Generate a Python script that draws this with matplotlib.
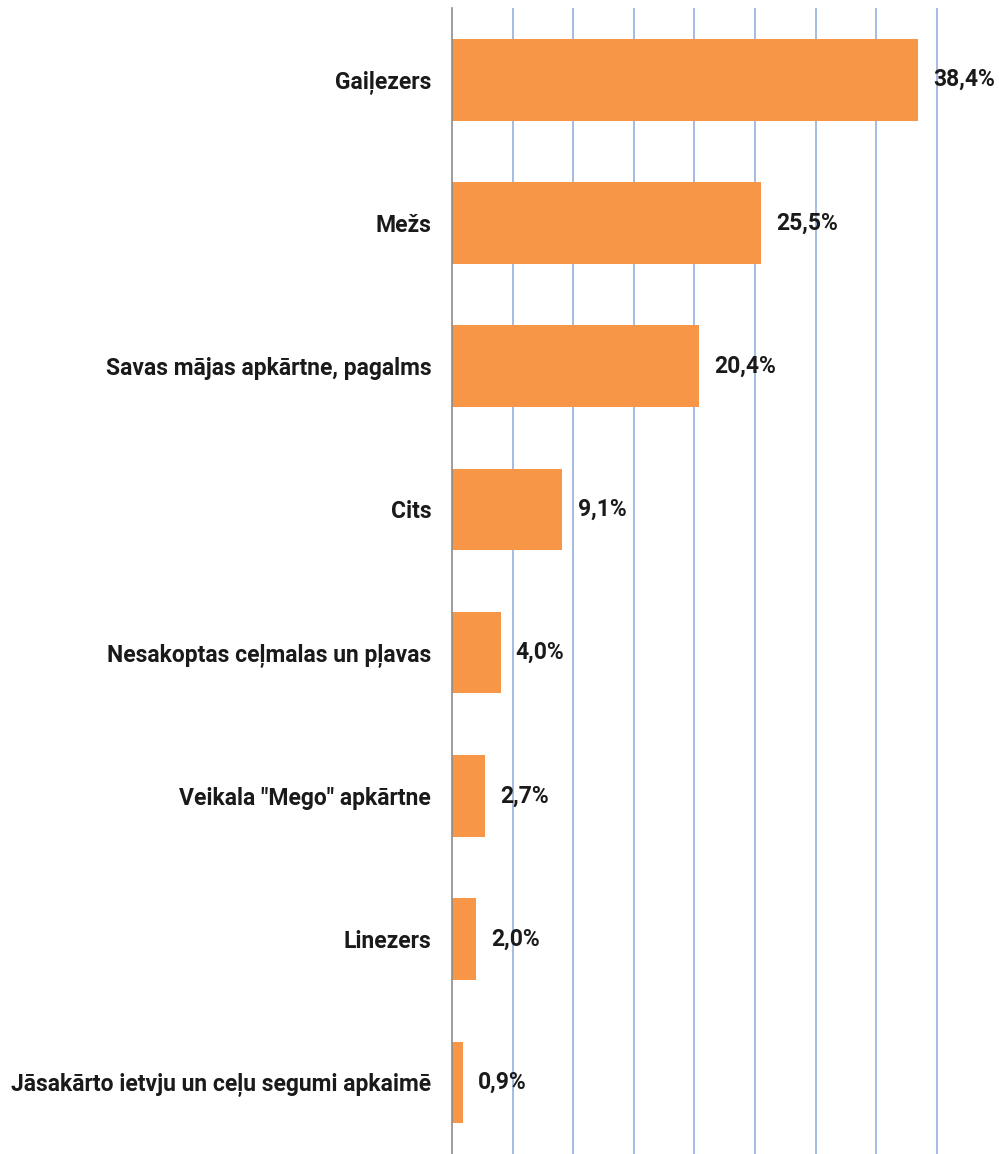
import matplotlib
matplotlib.use("Agg")
import matplotlib.pyplot as plt

categories = [
    "Gaiļezers",
    "Mežs",
    "Savas mājas apkārtne, pagalms",
    "Cits",
    "Nesakoptas ceļmalas un pļavas",
    "Veikala \"Mego\" apkārtne",
    "Linezers",
    "Jāsakārto ietvju un ceļu segumi apkaimē",
]
values = [38.4, 25.5, 20.4, 9.1, 4.0, 2.7, 2.0, 0.9]
value_labels = ["38,4%", "25,5%", "20,4%", "9,1%", "4,0%", "2,7%", "2,0%", "0,9%"]

plt.rcParams['font.family'] = ['Roboto', 'DejaVu Sans']

fig = plt.figure(figsize=(9.99, 11.54), dpi=100)
ax = fig.add_axes([0.4525, 0.0, 0.546, 0.993])

y = list(range(len(categories)))
ax.barh(y, values, height=0.57, color="#F79646", zorder=3)
ax.set_ylim(len(categories) - 0.5, -0.5)
ax.set_xlim(0, 45)
ax.set_xticks([5, 10, 15, 20, 25, 30, 35, 40])
ax.xaxis.grid(True, color="#9DB5E0", linewidth=1.3, zorder=0)
ax.set_xticklabels([])
ax.tick_params(axis='x', length=0)
ax.set_yticks(y)
ax.set_yticklabels(categories, fontsize=16.5, fontweight='bold', color="#1a1a1a")
ax.tick_params(axis='y', length=0, pad=15)
for s in ['top', 'right', 'bottom']:
    ax.spines[s].set_visible(False)
ax.spines['left'].set_color("#8C8C8C")
ax.spines['left'].set_linewidth(1.2)
ax.spines['left'].set_zorder(4)

for yi, v, lab in zip(y, values, value_labels):
    ax.annotate(lab, (v, yi), xytext=(11, 0), textcoords='offset points',
                va='center', ha='left', fontsize=16.5, fontweight='bold',
                color="#1a1a1a", zorder=5)

fig.savefig("out.png", dpi=100)
